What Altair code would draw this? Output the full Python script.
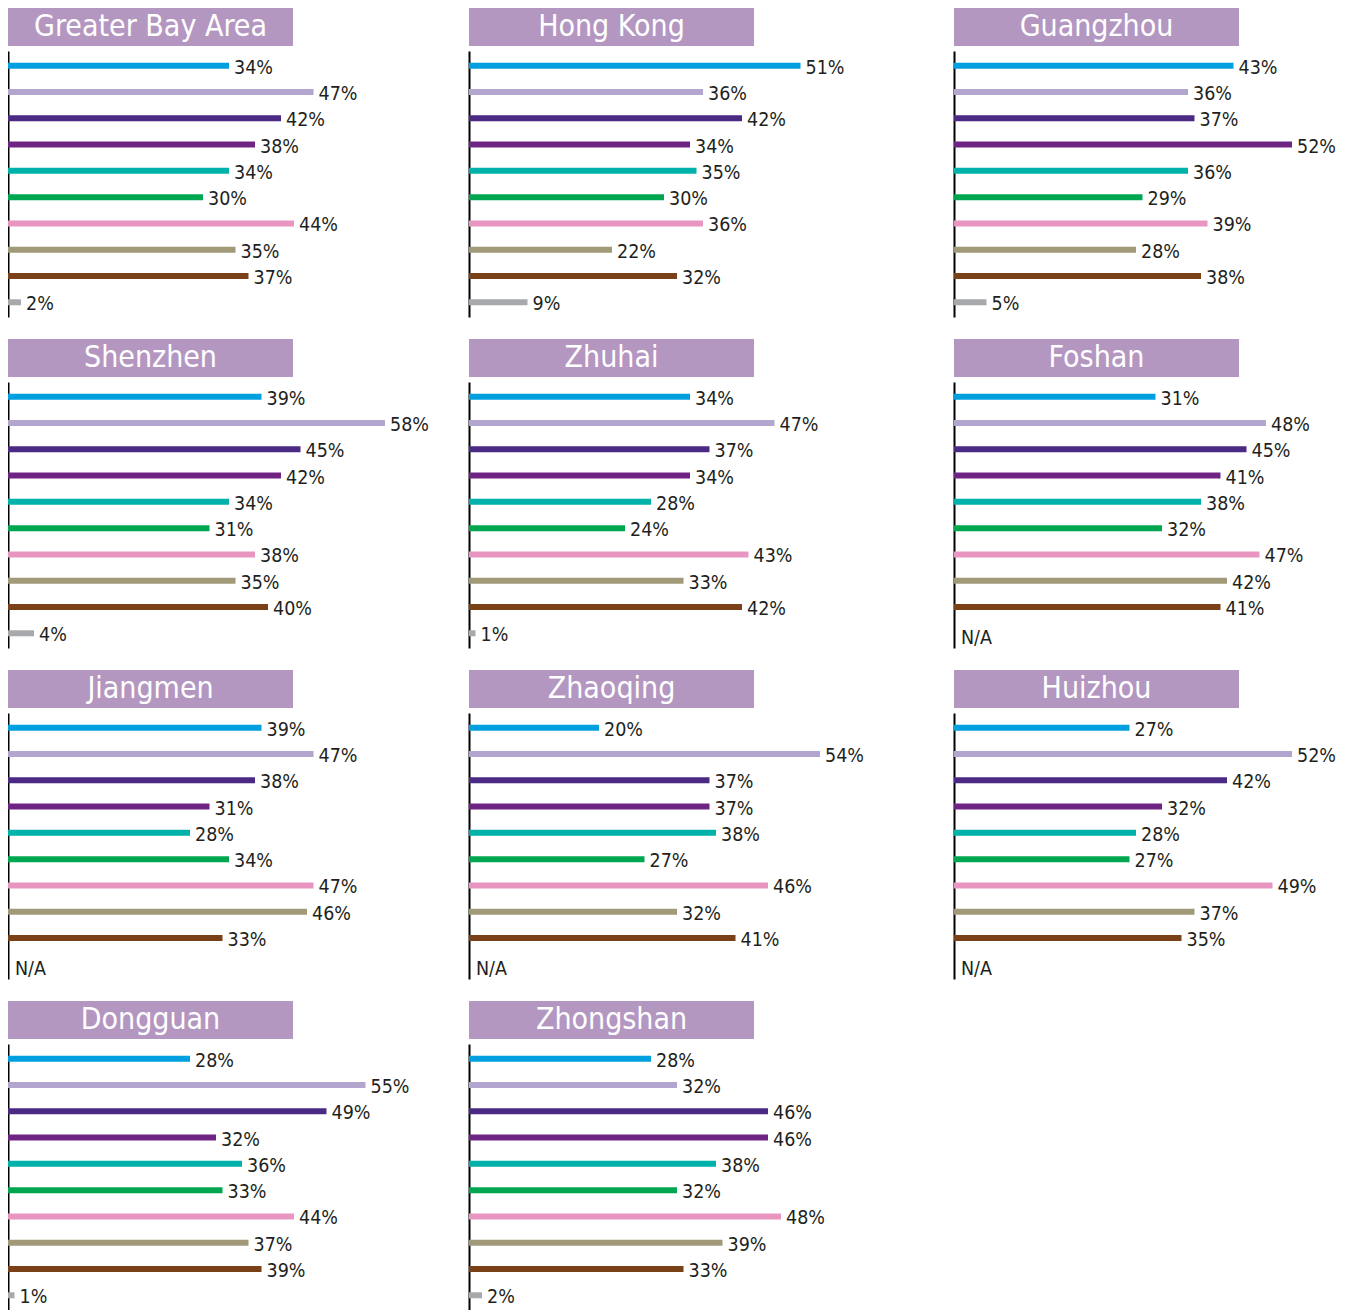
import altair as alt
import pandas as pd

FONT = "Liberation Sans Narrow, DejaVu Sans Condensed, Arial Narrow, sans-serif"

cities = ["Greater Bay Area", "Hong Kong", "Guangzhou", "Shenzhen", "Zhuhai",
          "Foshan", "Jiangmen", "Zhaoqing", "Huizhou", "Dongguan", "Zhongshan"]
categories = ["Item 1", "Item 2", "Item 3", "Item 4", "Item 5",
              "Item 6", "Item 7", "Item 8", "Item 9", "Item 10"]
colors = ["#009FDF", "#B3A6CE", "#4B2A84", "#6E2483", "#00B2A9",
          "#00A650", "#E896C1", "#A09A78", "#7A4119", "#A7A9AC"]

greater_bay_area = [34, 47, 42, 38, 34, 30, 44, 35, 37, 2]
hong_kong = [51, 36, 42, 34, 35, 30, 36, 22, 32, 9]
guangzhou = [43, 36, 37, 52, 36, 29, 39, 28, 38, 5]
shenzhen = [39, 58, 45, 42, 34, 31, 38, 35, 40, 4]
zhuhai = [34, 47, 37, 34, 28, 24, 43, 33, 42, 1]
foshan = [31, 48, 45, 41, 38, 32, 47, 42, 41, None]
jiangmen = [39, 47, 38, 31, 28, 34, 47, 46, 33, None]
zhaoqing = [20, 54, 37, 37, 38, 27, 46, 32, 41, None]
huizhou = [27, 52, 42, 32, 28, 27, 49, 37, 35, None]
dongguan = [28, 55, 49, 32, 36, 33, 44, 37, 39, 1]
zhongshan = [28, 32, 46, 46, 38, 32, 48, 39, 33, 2]

series = [greater_bay_area, hong_kong, guangzhou, shenzhen, zhuhai, foshan,
          jiangmen, zhaoqing, huizhou, dongguan, zhongshan]

records = []
for city, vals in zip(cities, series):
    for cat, v in zip(categories, vals):
        records.append({
            "city": city,
            "cat": cat,
            "value": v,
            "pos": v if v is not None else 0,
            "label": f"{v}%" if v is not None else "N/A",
        })
df = pd.DataFrame(records)

PX_PER_PCT = 6.5
col_widths = [441, 465, 384]
BAR_H = 266


def panel(city, width):
    d = df[df["city"] == city]
    base = alt.Chart(d)
    ydef = alt.Y(
        "cat:N", sort=categories,
        scale=alt.Scale(domain=categories, paddingInner=0, paddingOuter=0.06),
        axis=alt.Axis(labels=False, ticks=False, title=None, grid=False,
                      domain=True, domainColor="#000000", domainWidth=2),
    )
    xscale = alt.Scale(domain=[0, width / PX_PER_PCT], nice=False, zero=True)
    bars = base.transform_filter("isValid(datum.value)").mark_bar(size=6).encode(
        x=alt.X("value:Q", scale=xscale, axis=None),
        y=ydef,
        color=alt.Color("cat:N", scale=alt.Scale(domain=categories, range=colors),
                        legend=None),
    )
    labels = base.transform_filter("isValid(datum.value)").mark_text(
        align="left", baseline="middle", dx=5, dy=2, fontSize=19.5, font=FONT,
        color="#231F20",
    ).encode(x=alt.X("pos:Q", scale=xscale, axis=None), y=ydef, text="label:N")
    na = base.transform_filter("!isValid(datum.value)").mark_text(
        align="left", baseline="middle", dx=7, dy=5, fontSize=19.5, font=FONT,
        color="#231F20",
    ).encode(x=alt.X("pos:Q", scale=xscale, axis=None), y=ydef, text="label:N")
    body = alt.layer(bars, labels, na).properties(width=width, height=BAR_H)

    title = alt.Chart(pd.DataFrame({"t": [city]})).mark_text(
        font=FONT, fontSize=30, color="white", baseline="middle",
    ).encode(text="t:N").properties(
        width=285, height=38,
        view=alt.ViewBackground(fill="#B497C1", stroke=None),
    )
    return alt.vconcat(title, body, spacing=5)


rows = []
for r in range(4):
    row_panels = []
    for c in range(3):
        i = r * 3 + c
        if i < len(cities):
            row_panels.append(panel(cities[i], col_widths[c]))
    rows.append(alt.hconcat(*row_panels, spacing=20))

chart = alt.vconcat(*rows, spacing=22).properties(padding=0).configure_view(stroke=None)

chart.save("out.html", embed_options={"renderer": "svg", "actions": False})
